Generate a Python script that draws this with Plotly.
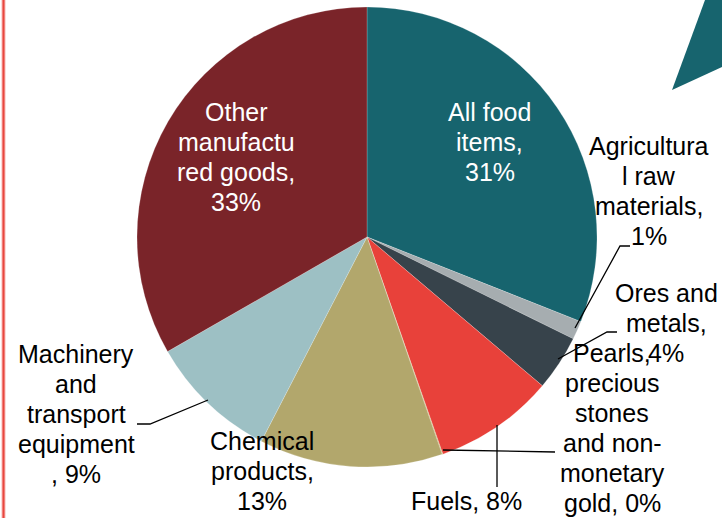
import plotly.graph_objects as go

# Export structure by product group (share of total, %)
categories = [
    "All food items",
    "Agricultural raw materials",
    "Ores and metals",
    "Fuels",
    "Pearls, precious stones and non-monetary gold",
    "Chemical products",
    "Machinery and transport equipment",
    "Other manufactured goods",
]
shares = [31.0, 1.3, 3.9, 8.45, 0.05, 12.9, 9.1, 33.3]

# Label text as wrapped on the chart (value appended from `shares`)
label_lines = [
    ["All food", "items,"],
    ["Agricultura", "l raw", "materials,"],
    ["Ores and", "metals,"],
    ["Fuels,"],
    ["Pearls,", "precious", "stones", "and non-", "monetary", "gold,"],
    ["Chemical", "products,"],
    ["Machinery", "and", "transport", "equipment", ","],
]
other_lines = ["Other", "manufactu", "red goods,"]

colors = ["#17646E", "#A6ADB0", "#37434B", "#E8413A", "#C9A24A",
          "#B2A76C", "#9DC0C4", "#7A2429"]

W, H = 722, 518
FONT = "Liberation Sans, Arial, sans-serif"
FS = 25
LINE = 30


def px(x):
    return x / W


def py(y):
    return 1 - y / H


# pie centre (367, 237) px, radius 230 px
cx, cy, r = 367, 237, 230

fig = go.Figure(go.Pie(
    labels=categories,
    values=shares,
    sort=False,
    direction="clockwise",
    rotation=0,
    textinfo="none",
    hoverinfo="label+percent",
    marker=dict(colors=colors, line=dict(color="rgba(255,255,255,0.5)", width=0.4)),
    domain=dict(x=[px(cx - r), px(cx + r)], y=[py(cy + r), py(cy - r)]),
))

# label layout: (centre x, first baseline y, colour) in pixels
label_pos = [
    (490, 121, "white"),
    (649, 155, "black"),
    (666, 302, "black"),
    (466, 510, "black"),
    (612, 362, "black"),
    (262, 450, "black"),
    (76, 363, "black"),
]
other_pos = (236, 121, "white")


def fmt_pct(v):
    return f"{round(v):d}%"


def add_label(lines, pos):
    x, y0, col = pos
    for i, t in enumerate(lines):
        fig.add_annotation(
            x=px(x), y=py(y0 + i * LINE - 9), xref="paper", yref="paper",
            text=t, showarrow=False, xanchor="center", yanchor="middle",
            font=dict(family=FONT, size=FS, color=col),
        )


for lines, v, pos in zip(label_lines, shares[:7], label_pos):
    lines = list(lines)
    if lines[-1] in (",", "Fuels,", "gold,"):
        lines[-1] = lines[-1] + " " + fmt_pct(v)
    else:
        lines.append(fmt_pct(v))
    add_label(lines, pos)

add_label(other_lines + [fmt_pct(shares[7])], other_pos)

# leader lines (pixel polylines)
leaders = [
    [(575, 328), (620, 246), (630, 246)],
    [(558, 359), (607, 332), (617, 332)],
    [(443, 450), (555, 452)],
    [(497, 425), (497, 487)],
    [(208, 400), (150, 424), (137, 424)],
]
for pts in leaders:
    path = "M " + " L ".join(f"{px(x):.5f},{py(y):.5f}" for x, y in pts)
    fig.add_shape(type="path", path=path, xref="paper", yref="paper",
                  line=dict(color="black", width=1.3))

# decorative corner wedge and left rule
corner = [(705, 0), (722, 0), (722, 67), (672, 90)]
fig.add_shape(type="path", xref="paper", yref="paper",
              path="M " + " L ".join(f"{px(x):.5f},{py(y):.5f}" for x, y in corner) + " Z",
              fillcolor="#17646E", line=dict(width=0))
fig.add_shape(type="line", xref="paper", yref="paper",
              x0=px(3.5), x1=px(3.5), y0=0, y1=1,
              line=dict(color="#F8B9B5", width=4))
fig.add_shape(type="line", xref="paper", yref="paper",
              x0=px(3.5), x1=px(3.5), y0=0, y1=1,
              line=dict(color="#E8473F", width=2))

fig.update_layout(
    width=W, height=H,
    margin=dict(l=0, r=0, t=0, b=0),
    showlegend=False,
    paper_bgcolor="white",
    plot_bgcolor="white",
)

fig.write_html("out.html")
